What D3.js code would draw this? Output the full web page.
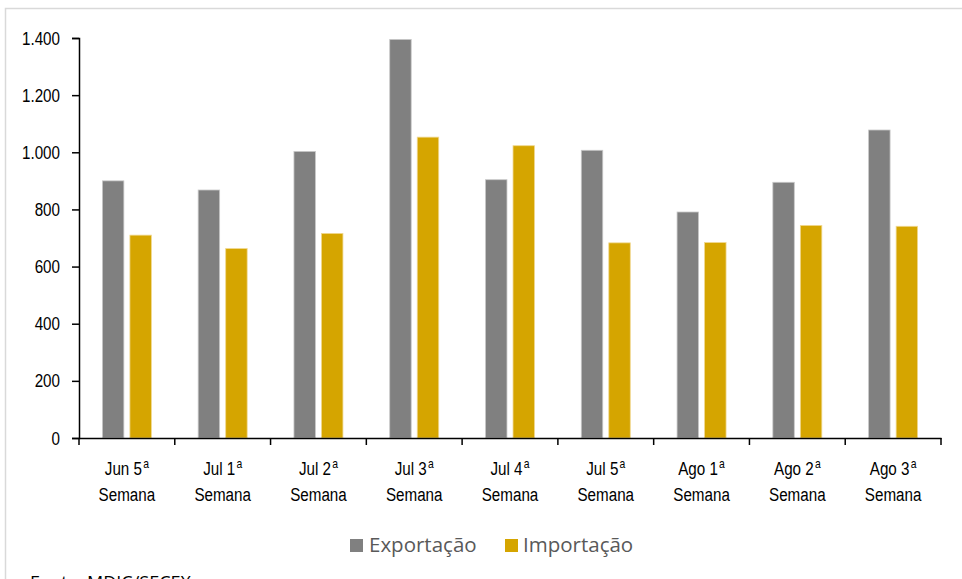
<!DOCTYPE html>
<html>
<head>
<meta charset="utf-8">
<script src="https://cdn.jsdelivr.net/npm/d3@7/dist/d3.min.js"></script>
<style>
  html, body { margin: 0; padding: 0; background: #fff; }
  svg { display: block; }
</style>
</head>
<body>
<svg id="chart" width="962" height="579"></svg>
<script>
const categories = ["Jun 5", "Jul 1", "Jul 2", "Jul 3", "Jul 4", "Jul 5", "Ago 1", "Ago 2", "Ago 3"];
const seriesNames = ["Exportação", "Importação"];
const exportacao = [900, 868, 1003, 1395, 904, 1007, 791, 895, 1078];
const importacao = [710, 663, 716, 1053, 1023, 683, 684, 744, 741];
const yTicks = [0, 200, 400, 600, 800, 1000, 1200, 1400];
const colors = ["#808080", "#D5A500"];
const sourceText = "Fonte: MDIC/SECEX";

const svg = d3.select("#chart");
const axisFont = "'Liberation Sans', Arial, sans-serif";
const SX = 0.8; // horizontal condensing of axis text

// frame
svg.append("rect").attr("x", 5.5).attr("y", 8.5).attr("width", 1000).attr("height", 1000)
  .attr("fill", "none").attr("stroke", "#d9d9d9").attr("stroke-width", 1.5);

const x0 = d3.scaleBand().domain(categories).range([79, 941]).padding(0);
const x1 = d3.scaleBand().domain(seriesNames).range([0, x0.bandwidth()])
  .paddingInner(0.22).paddingOuter(0.85);
const y = d3.scaleLinear().domain([0, 1400]).range([438, 38]);

const loc = d3.formatLocale({decimal: ",", thousands: ".", grouping: [3], currency: ["R$", ""]});
const fmt = loc.format(",.0f");

const rows = categories.map((c, i) => ({cat: c, vals: [exportacao[i], importacao[i]]}));

// bars
const g = svg.append("g");
g.selectAll("g.grp").data(rows).join("g").attr("class", "grp")
  .attr("transform", d => `translate(${x0(d.cat)},0)`)
  .selectAll("rect").data(d => d.vals.map((v, k) => ({s: seriesNames[k], v, k})))
  .join("rect")
  .attr("x", d => x1(d.s))
  .attr("y", d => y(d.v))
  .attr("width", x1.bandwidth())
  .attr("height", d => y(0) - y(d.v))
  .attr("fill", d => colors[d.k])
  .attr("stroke", d => d.k === 0 ? "#c8c8c8" : "#f0d890")
  .attr("stroke-width", 0.8);

// y axis
const yAxis = svg.append("g").attr("transform", "translate(79,0)")
  .call(d3.axisLeft(y).tickValues(yTicks).tickFormat(fmt).tickSize(7).tickPadding(11));
yAxis.select(".domain").attr("stroke", "#000").attr("stroke-width", 1.5);
yAxis.selectAll(".tick line").attr("stroke", "#000").attr("stroke-width", 1.5);
yAxis.selectAll(".tick text").attr("font-family", axisFont).attr("font-size", 19).attr("fill", "#000")
  .attr("x", -19 / SX).attr("transform", `scale(${SX},1)`);

// x axis
const xAxis = svg.append("g").attr("transform", "translate(0,438)")
  .call(d3.axisBottom(x0).tickSize(0).tickFormat(""));
xAxis.select(".domain").attr("stroke", "#000").attr("stroke-width", 1.5);
const bounds = categories.map(c => x0(c)).concat([x0.range()[1]]);
xAxis.selectAll("line.bound").data(bounds).join("line").attr("class", "bound")
  .attr("x1", d => d).attr("x2", d => d).attr("y1", 0).attr("y2", 7)
  .attr("stroke", "#000").attr("stroke-width", 1.5);

const lbl = svg.append("g").selectAll("text").data(categories).join("text")
  .attr("font-family", axisFont).attr("font-size", 19).attr("fill", "#000")
  .attr("text-anchor", "middle")
  .attr("transform", d => `translate(${x0(d) + x0.bandwidth() / 2},0) scale(${SX},1)`);
lbl.each(function(d) {
  const t = d3.select(this);
  const l1 = t.append("tspan").attr("x", 0).attr("y", 475);
  l1.append("tspan").text(d);
  l1.append("tspan").attr("font-size", 13).attr("dx", 1.5).attr("dy", -7).text("a");
  t.append("tspan").attr("x", 0).attr("y", 501).text("Semana");
});

// legend
const legFont = "'Open Sans', 'Noto Sans', sans-serif";
const leg = svg.append("g");
const legItems = [{name: seriesNames[0], sx: 350, tx: 369}, {name: seriesNames[1], sx: 505, tx: 523}];
legItems.forEach((it, k) => {
  leg.append("rect").attr("x", it.sx).attr("y", 539).attr("width", 13).attr("height", 13).attr("fill", colors[k]);
  leg.append("text").attr("x", it.tx).attr("y", 552).attr("font-family", legFont)
    .attr("font-size", 20.5).attr("fill", "#595959").text(it.name);
});

// source (cut by the bottom edge, as in the reference)
svg.append("text").attr("x", 30).attr("y", 589).attr("font-family", legFont)
  .attr("font-size", 18).attr("fill", "#000").text(sourceText);
</script>
</body>
</html>
